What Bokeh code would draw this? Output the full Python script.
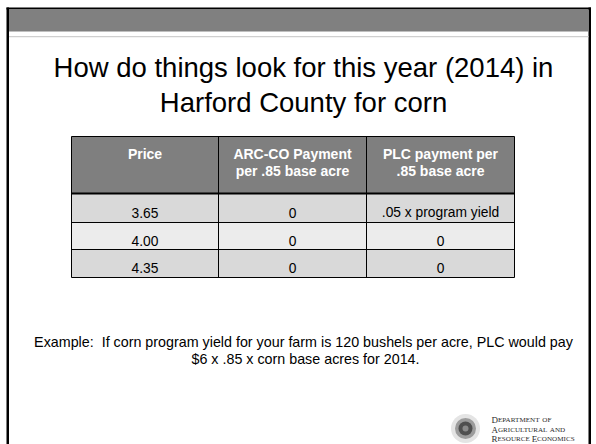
from bokeh.plotting import figure
from bokeh.models import Range1d
from bokeh.core.properties import value
from bokeh.embed import file_html
from bokeh.resources import INLINE

# ---------------- data ----------------
title_lines = ["How do things look for this year (2014) in", "Harford County for corn"]
col_headers = [["Price"], ["ARC-CO Payment", "per .85 base acre"], ["PLC payment per", ".85 base acre"]]
prices = ["3.65", "4.00", "4.35"]
arc_co_payment = ["0", "0", "0"]
plc_payment = [".05 x program yield", "0", "0"]
note_lines = ["Example:\u00a0 If corn program yield for your farm is 120 bushels per acre, PLC would pay",
              "$6 x .85 x corn base acres for 2014."]
logo_lines = ["DEPARTMENT OF", "AGRICULTURAL AND", "RESOURCE ECONOMICS"]
logo_minor_words = {"OF", "AND"}

# ---------------- layout (pixel space of the slide) ----------------
W, H = 596, 444
COL_EDGES = [71, 218, 366, 514]
ROW_EDGES = [136, 193, 222, 249, 277]
ROW_FILLS = ["#d9d9d9", "#ececec", "#d9d9d9"]
HEADER_FILL = "#7f7f7f"
FONT = value("Liberation Sans")

p = figure(width=W, height=H, x_range=Range1d(0, W), y_range=Range1d(H, 0),
           x_axis_type=None, y_axis_type=None, output_backend="svg",
           toolbar_location=None, min_border=0)
p.grid.visible = False
p.outline_line_color = None
p.background_fill_color = "white"
p.border_fill_color = "white"

# slide frame
p.quad(left=[6, 6, 588], right=[8.5, 590.5, 590.5], top=[7, 7, 7], bottom=[H, 9, H],
       fill_color="black", line_color=None)
p.quad(left=[8.5], right=[588], top=[9], bottom=[31], fill_color="#808080", line_color=None)
p.quad(left=[8.5], right=[588], top=[35.5], bottom=[36.8], fill_color="#cfcfcf", line_color=None)

# title
p.text(x=[303, 303], y=[67, 102], text=title_lines, text_font=FONT, text_font_size="27.5px",
       text_align="center", text_baseline="alphabetic", text_color="black")

# table cells
cols = [prices, arc_co_payment, plc_payment]
n_rows = len(prices)
p.quad(left=[COL_EDGES[0]], right=[COL_EDGES[-1]], top=[ROW_EDGES[0]], bottom=[ROW_EDGES[1]],
       fill_color=HEADER_FILL, line_color=None)
p.quad(left=[COL_EDGES[0]] * n_rows, right=[COL_EDGES[-1]] * n_rows,
       top=ROW_EDGES[1:-1], bottom=ROW_EDGES[2:], fill_color=ROW_FILLS[:n_rows], line_color=None)

# header text
hx, hy, ht = [], [], []
for c, lines in enumerate(col_headers):
    cx = (COL_EDGES[c] + COL_EDGES[c + 1]) / 2
    for k, line in enumerate(lines):
        hx.append(cx); hy.append(153 + 17 * k); ht.append(line)
p.text(x=hx, y=hy, text=ht, text_font=FONT, text_font_size="14px", text_font_style="bold",
       text_align="center", text_baseline="alphabetic", text_color="white")

# body text
bx, by, bt = [], [], []
for c, col in enumerate(cols):
    cx = (COL_EDGES[c] + COL_EDGES[c + 1]) / 2
    for r, v in enumerate(col):
        cy = (ROW_EDGES[r + 1] + ROW_EDGES[r + 2]) / 2
        bx.append(cx); by.append(cy + 4.8); bt.append(v)
p.text(x=bx, y=by, text=bt, text_font=FONT, text_font_size="13.8px",
       text_align="center", text_baseline="alphabetic", text_color="black")

# table lines
xs, ys, ws = [], [], []
for i, ry in enumerate(ROW_EDGES):
    xs.append([COL_EDGES[0], COL_EDGES[-1]]); ys.append([ry, ry]); ws.append(2 if i == 1 else 1)
for cx in COL_EDGES:
    xs.append([cx, cx]); ys.append([ROW_EDGES[0], ROW_EDGES[-1]]); ws.append(1)
p.multi_line(xs=xs, ys=ys, line_width=ws, line_color="black")

# note text
p.text(x=[303, 305], y=[341, 358], text=note_lines, text_font=FONT, text_font_size="14.3px",
       text_align="center", text_baseline="alphabetic", text_color="black")

# logo: seal
p.circle(x=[465], y=[428], radius=14.5, fill_color="#e4e4e4", line_color=None)
p.circle(x=[465], y=[428], radius=10.5, fill_color="#9c9c9c", line_color=None)
p.circle(x=[465], y=[428], radius=7, fill_color="#4f4f4f", line_color=None)
p.circle(x=[465], y=[428], radius=3, fill_color="#8a8a8a", line_color=None)

# logo: department name in small caps (large initials, smaller remaining capitals)
TIMES_W = {"A": .722, "B": .667, "C": .667, "D": .722, "E": .611, "F": .556, "G": .722, "H": .722,
           "I": .333, "J": .389, "K": .722, "L": .611, "M": .889, "N": .722, "O": .722, "P": .556,
           "Q": .722, "R": .667, "S": .556, "T": .611, "U": .722, "V": .722, "W": .944, "X": .722,
           "Y": .722, "Z": .611, " ": .25}
BIG, SMALL = 9.0, 7.1
big_x, big_y, big_t, sm_x, sm_y, sm_t = [], [], [], [], [], []
for li, line in enumerate(logo_lines):
    x = 491.0
    y = 419.5 + 9.6 * li
    for word_i, word in enumerate(line.split(" ")):
        if word_i > 0:
            x += TIMES_W[" "] * SMALL
        if word in logo_minor_words:
            head, rest = "", word
        else:
            head, rest = word[0], word[1:]
        if head:
            big_x.append(x); big_y.append(y); big_t.append(head)
            x += TIMES_W[head] * BIG
        if rest:
            sm_x.append(x); sm_y.append(y); sm_t.append(rest)
            x += sum(TIMES_W[ch] for ch in rest) * SMALL
p.text(x=big_x, y=big_y, text=big_t, text_font=value("Liberation Serif"), text_font_size=f"{BIG}px",
       text_align="left", text_baseline="alphabetic", text_color="#2b2b2b")
p.text(x=sm_x, y=sm_y, text=sm_t, text_font=value("Liberation Serif"), text_font_size=f"{SMALL}px",
       text_align="left", text_baseline="alphabetic", text_color="#2b2b2b")

open("out.html", "w").write(file_html(p, INLINE))
